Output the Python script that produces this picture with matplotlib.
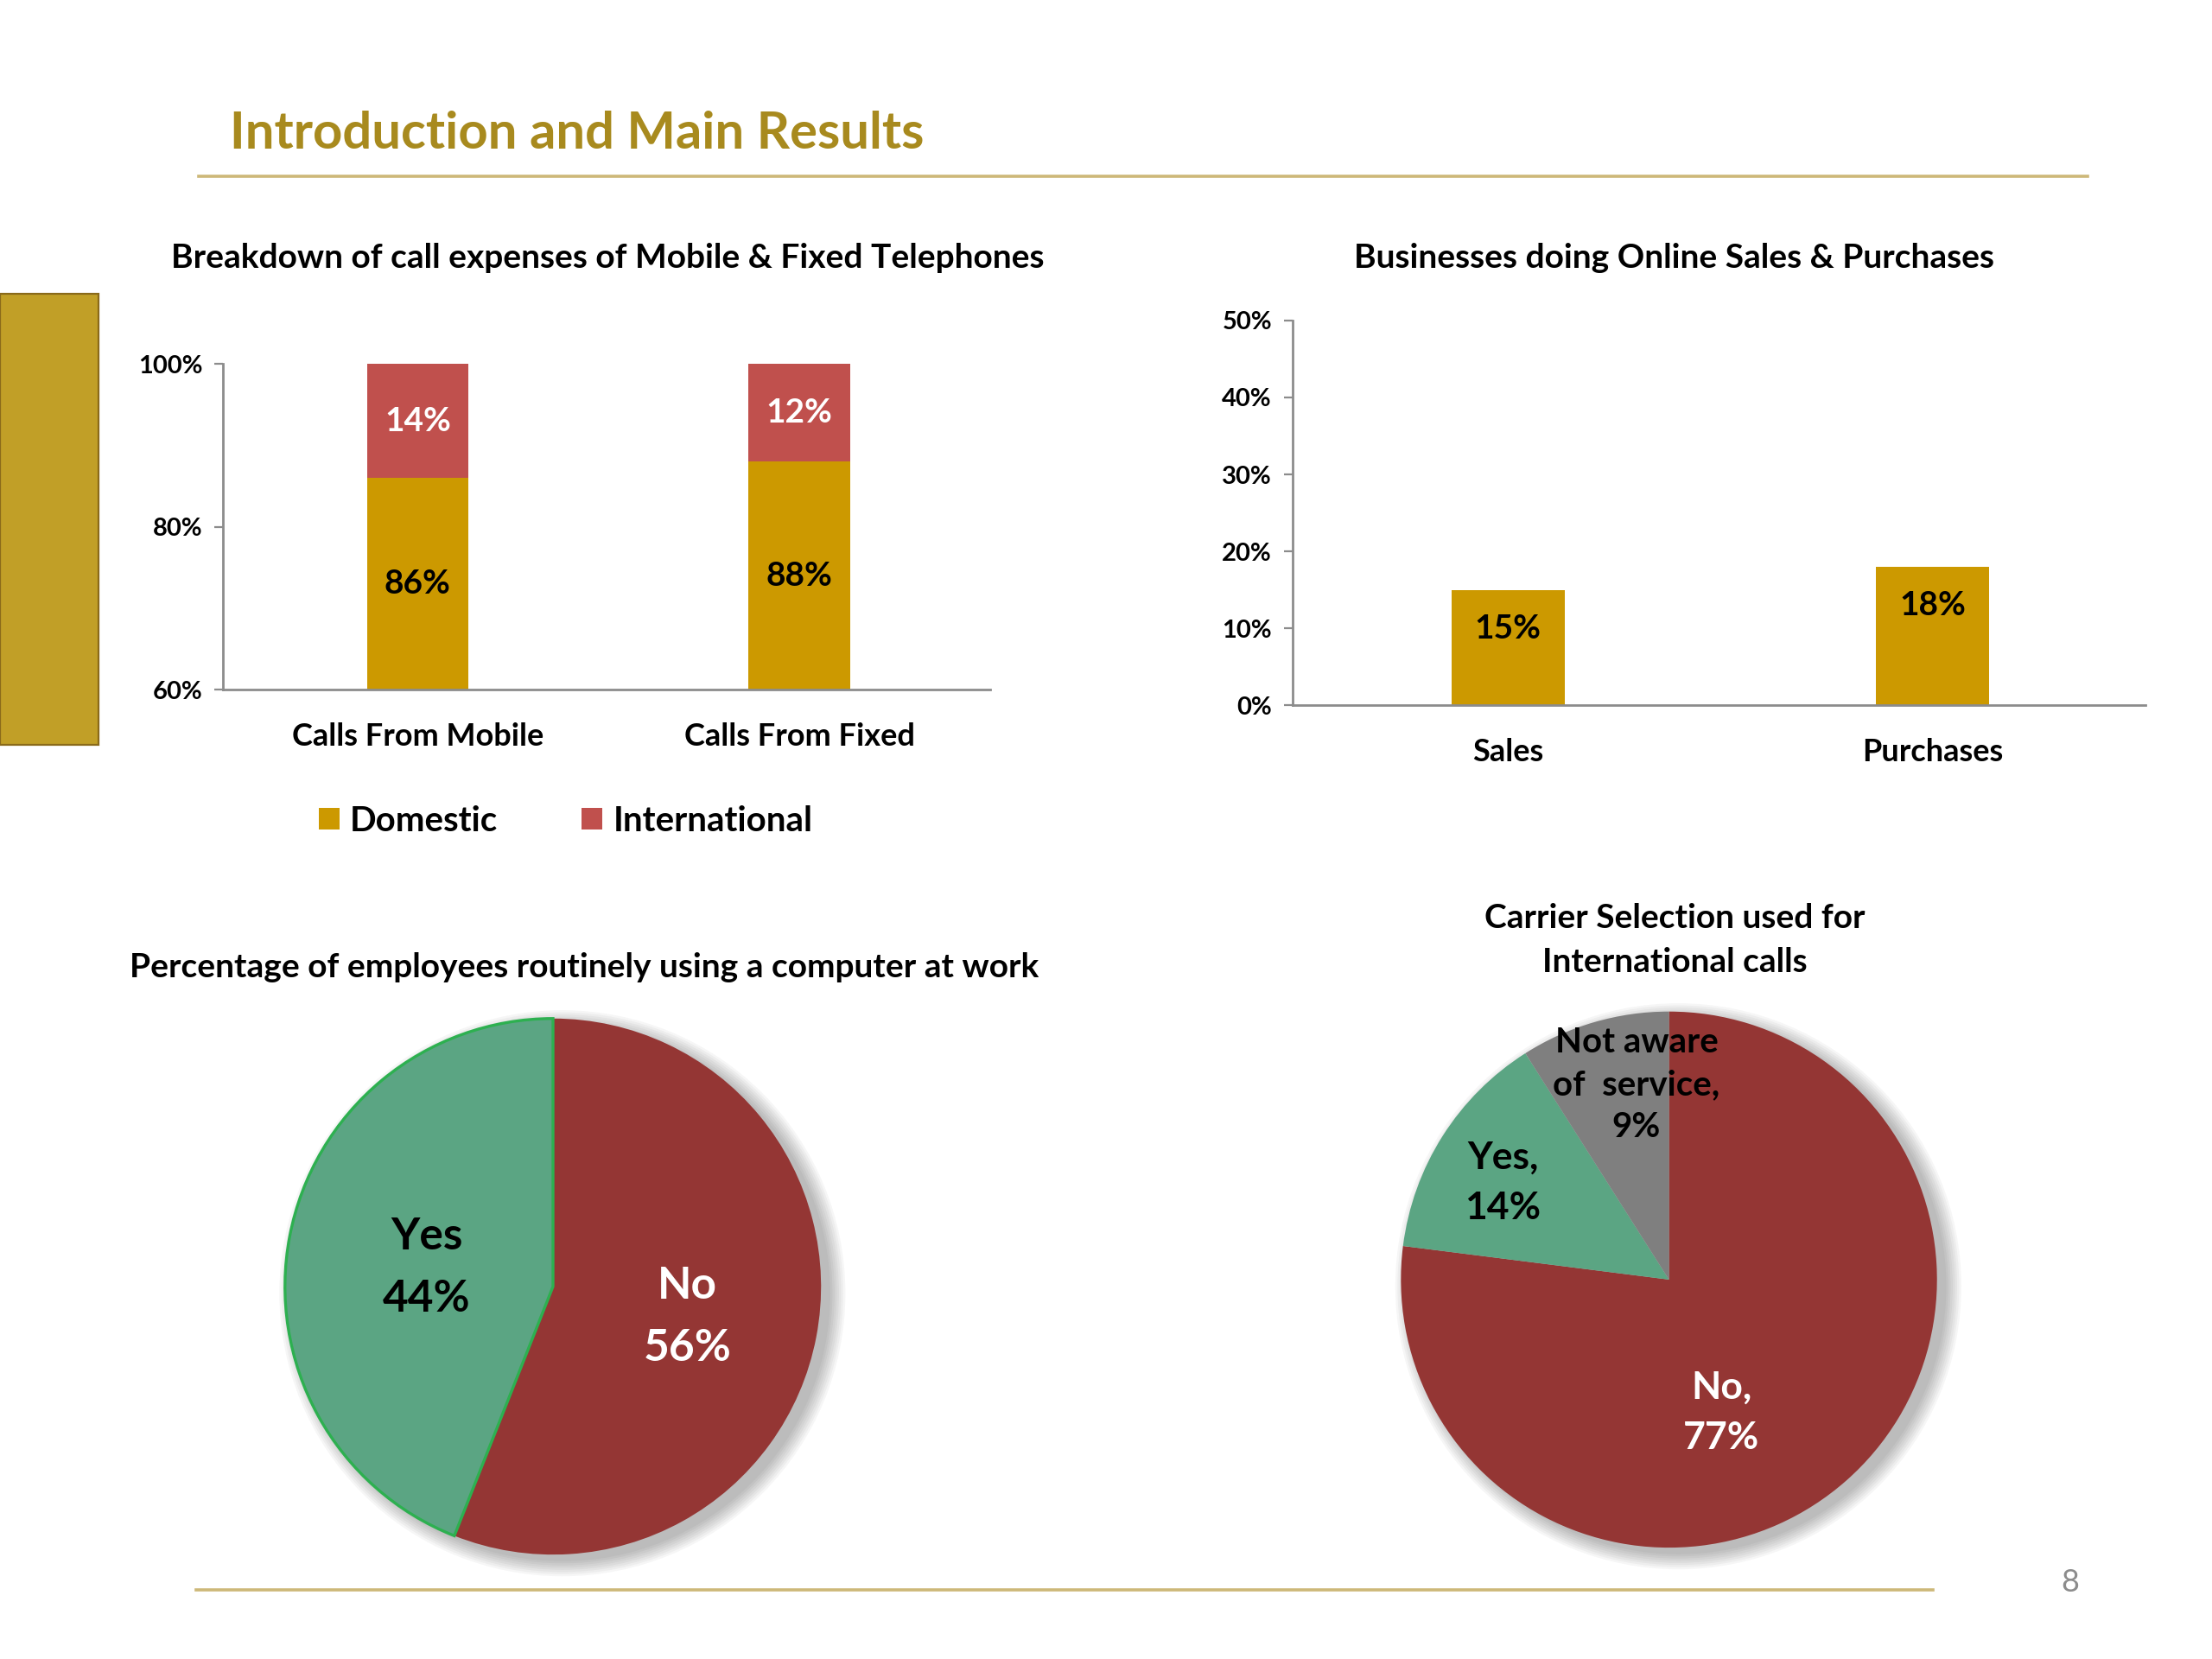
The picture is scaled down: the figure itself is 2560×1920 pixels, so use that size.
import matplotlib
matplotlib.use("Agg")
import matplotlib.pyplot as plt
from matplotlib.patches import Rectangle, Circle
from matplotlib.lines import Line2D
import numpy as np

plt.rcParams['font.family'] = ['Lato', 'DejaVu Sans']
plt.rcParams['font.weight'] = 'bold'

# data
call_cats = ['Calls From Mobile', 'Calls From Fixed']
domestic = [86, 88]
international = [14, 12]

online_cats = ['Sales', 'Purchases']
online_vals = [15, 18]

pc_labels = ['No', 'Yes']
pc_vals = [56, 44]

carrier_labels = ['No,', 'Yes,', 'Not aware\nof  service,']
carrier_vals = [77, 14, 9]

GOLD = '#CC9900'
RED = '#C0504D'
DARKRED = '#943634'
GREEN = '#5BA583'
GRAY = '#7F7F7F'
AXCOL = '#8C8C8C'

fig = plt.figure(figsize=(12.8, 9.6), dpi=200)
fig.patch.set_facecolor('white')

# slide decorations
fig.add_artist(Rectangle((0, 0.5510), 0.0446, 0.2721, transform=fig.transFigure,
                         facecolor='#C19F27', edgecolor='#8A6A1A', lw=0.8))
fig.add_artist(Line2D([0.0899, 0.9439], [0.8937, 0.8937], transform=fig.transFigure,
                      color='#CDB878', lw=1.3))
fig.add_artist(Line2D([0.0886, 0.8737], [0.0417, 0.0417], transform=fig.transFigure,
                      color='#CDB878', lw=1.3))
fig.text(0.104, 0.9192, 'Introduction and Main Results', color='#A88A1E',
         fontsize=21.5, ha='left', va='center')
fig.text(0.936, 0.046, '8', color='#8C8C8C', fontsize=13, fontweight='normal',
         ha='center', va='center')


def style_bar_axes(ax):
    for s in ['top', 'right']:
        ax.spines[s].set_visible(False)
    for s in ['left', 'bottom']:
        ax.spines[s].set_color(AXCOL)
        ax.spines[s].set_linewidth(1.0)
    ax.tick_params(axis='y', length=3.5, color=AXCOL, labelsize=10.5, pad=5)
    ax.tick_params(axis='x', length=0, labelsize=13, pad=13.5)


# chart 1: stacked bars
ax1 = fig.add_axes([0.1008, 0.5842, 0.3469, 0.1964])
x1 = np.arange(len(call_cats))
b_dom = ax1.bar(x1, domestic, width=0.266, color=GOLD, label='Domestic')
b_int = ax1.bar(x1, international, bottom=domestic, width=0.266, color=RED,
                label='International')
ax1.set_ylim(60, 100)
ax1.set_xlim(-0.51, 1.5)
ax1.set_yticks([60, 80, 100])
ax1.set_yticklabels([f'{v}%' for v in [60, 80, 100]])
ax1.set_xticks(x1)
ax1.set_xticklabels(call_cats)
style_bar_axes(ax1)
for i in range(len(call_cats)):
    ax1.text(x1[i], (60 + domestic[i]) / 2, f'{domestic[i]}%', ha='center',
             va='center', fontsize=14, color='black')
    ax1.text(x1[i], domestic[i] + international[i] / 2, f'{international[i]}%',
             ha='center', va='center', fontsize=14, color='white')
fig.text(0.2749, 0.8444, 'Breakdown of call expenses of Mobile & Fixed Telephones',
         ha='center', va='center', fontsize=14)
fig.legend(handles=[b_dom, b_int], loc='center', bbox_to_anchor=(0.2557, 0.5050),
           ncol=2, frameon=False, fontsize=14.5, handlelength=0.6, handleheight=0.6,
           handletextpad=0.3, columnspacing=2.4)

# chart 2: online sales
ax2 = fig.add_axes([0.5842, 0.5748, 0.3858, 0.2321])
x2 = np.arange(len(online_cats))
ax2.bar(x2, online_vals, width=0.266, color=GOLD)
ax2.set_ylim(0, 50)
ax2.set_xlim(-0.508, 1.502)
ax2.set_yticks(range(0, 51, 10))
ax2.set_yticklabels([f'{v}%' for v in range(0, 51, 10)])
ax2.set_xticks(x2)
ax2.set_xticklabels(online_cats)
style_bar_axes(ax2)
for i, v in enumerate(online_vals):
    ax2.annotate(f'{v}%', (x2[i], v), xytext=(0, -16), textcoords='offset points',
                 ha='center', va='center', fontsize=14, color='black')
fig.text(0.7567, 0.8444, 'Businesses doing Online Sales & Purchases',
         ha='center', va='center', fontsize=14)


def pie_axes(cx, cy):
    r_w = 190 / 1568
    r_h = 190 / 1176
    ax = fig.add_axes([cx - 1.3 * r_w, cy - 1.3 * r_h, 2.6 * r_w, 2.6 * r_h])
    return ax


def finish_pie(ax):
    ax.set_xlim(-1.3, 1.3)
    ax.set_ylim(-1.3, 1.3)
    ax.axis('off')
    # soft shadow behind the pie
    for k in range(8):
        ax.add_patch(Circle((0.035, -0.025), 1.0 + k * 0.008, facecolor='black',
                            alpha=0.035, lw=0, zorder=0))


# chart 3: computer use pie
ax3 = pie_axes(0.25, 0.2245)
w3, _ = ax3.pie(pc_vals, colors=[DARKRED, GREEN], startangle=90, counterclock=False,
                radius=1.0, wedgeprops=dict(lw=0), frame=True)
finish_pie(ax3)
w3[1].set_edgecolor('#2DB050')
w3[1].set_linewidth(1.2)
for w in w3:
    w.set_zorder(2)
pc_text_col = ['white', 'black']
pc_text_r = [0.51, 0.48]
for i, w in enumerate(w3):
    ang = np.deg2rad((w.theta1 + w.theta2) / 2)
    ax3.text(pc_text_r[i] * np.cos(ang), pc_text_r[i] * np.sin(ang) - 0.02,
             f'{pc_labels[i]}\n{pc_vals[i]}%', ha='center', va='center',
             fontsize=18.5, color=pc_text_col[i], linespacing=1.65, zorder=3)
fig.text(0.2640, 0.4167, 'Percentage of employees routinely using a computer at work',
         ha='center', va='center', fontsize=14)

# chart 4: carrier selection pie
ax4 = pie_axes(0.7545, 0.2287)
w4, _ = ax4.pie(carrier_vals, colors=[DARKRED, GREEN, GRAY], startangle=90,
                counterclock=False, radius=1.0, wedgeprops=dict(lw=0), frame=True)
finish_pie(ax4)
for w in w4:
    w.set_zorder(2)
carrier_pos = [(0.195, -0.495), (-0.62, 0.36), (-0.121, 0.726)]
carrier_col = ['white', 'black', 'black']
carrier_size = [16, 16, 14.5]
carrier_ls = [1.55, 1.55, 1.4]
for i in range(len(carrier_vals)):
    ax4.text(carrier_pos[i][0], carrier_pos[i][1],
             f'{carrier_labels[i]}\n{carrier_vals[i]}%', ha='center', va='center',
             fontsize=carrier_size[i], color=carrier_col[i],
             linespacing=carrier_ls[i], zorder=3)
fig.text(0.7570, 0.4333, 'Carrier Selection used for\nInternational calls',
         ha='center', va='center', fontsize=14, linespacing=1.55)

fig.savefig('out.png', dpi=200, facecolor='white')
